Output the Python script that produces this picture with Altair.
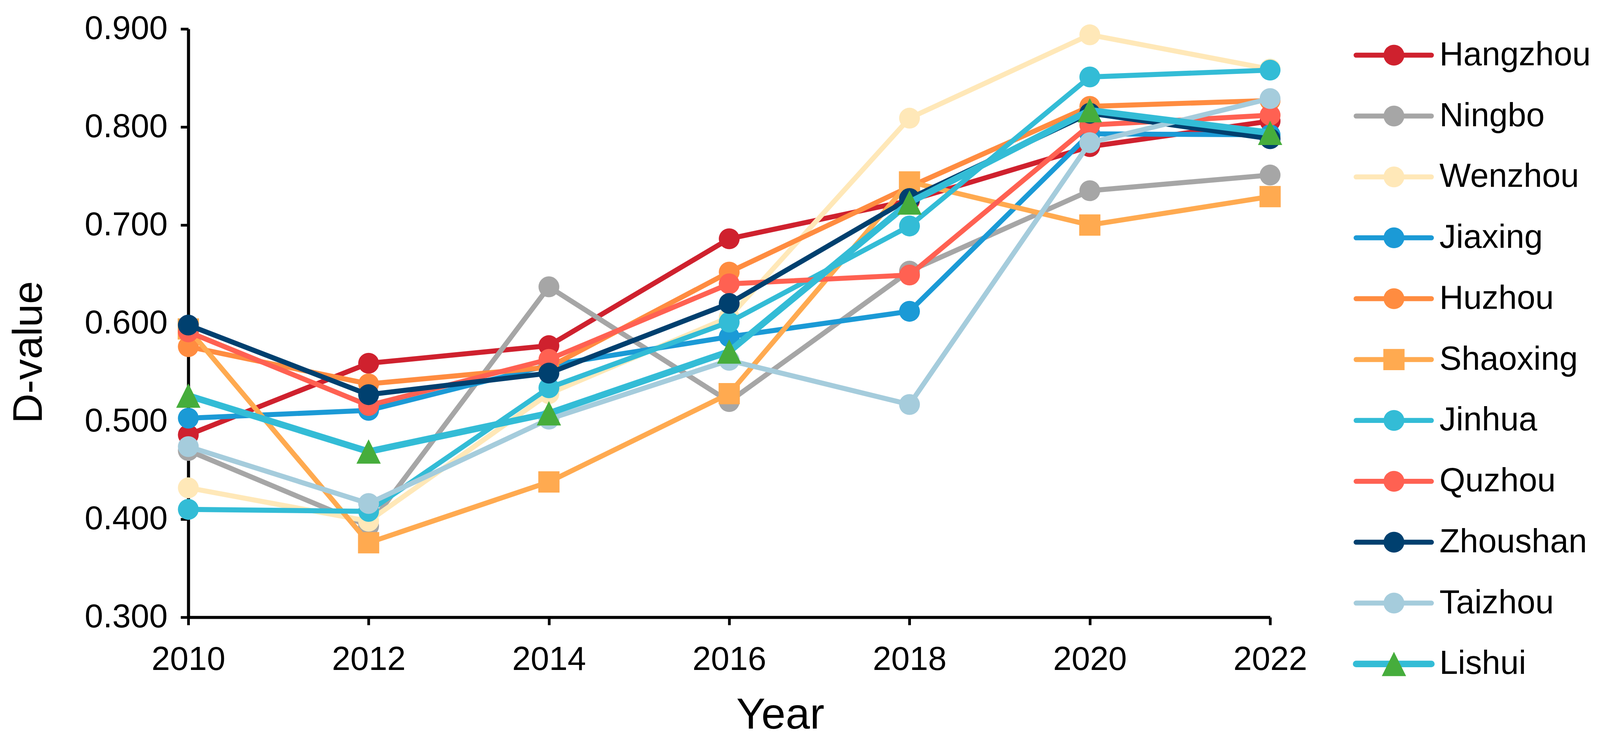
import altair as alt
import pandas as pd

# ---------------- data ----------------
years = [2010, 2012, 2014, 2016, 2018, 2020, 2022]
cities = ["Hangzhou", "Ningbo", "Wenzhou", "Jiaxing", "Huzhou", "Shaoxing",
          "Jinhua", "Quzhou", "Zhoushan", "Taizhou", "Lishui"]

hangzhou = [0.486, 0.559, 0.577, 0.686, 0.725, 0.780, 0.806]
ningbo   = [0.470, 0.393, 0.637, 0.520, 0.653, 0.735, 0.751]
wenzhou  = [0.432, 0.398, 0.528, 0.606, 0.809, 0.894, 0.859]
jiaxing  = [0.503, 0.511, 0.557, 0.586, 0.612, 0.793, 0.792]
huzhou   = [0.576, 0.538, 0.555, 0.652, 0.739, 0.821, 0.827]
shaoxing = [0.594, 0.376, 0.438, 0.528, 0.744, 0.700, 0.729]
jinhua   = [0.410, 0.408, 0.534, 0.601, 0.699, 0.851, 0.858]
quzhou   = [0.591, 0.516, 0.563, 0.640, 0.649, 0.802, 0.812]
zhoushan = [0.598, 0.527, 0.549, 0.620, 0.727, 0.814, 0.788]
taizhou  = [0.474, 0.416, 0.502, 0.562, 0.517, 0.784, 0.829]
lishui   = [0.526, 0.469, 0.508, 0.571, 0.723, 0.817, 0.794]

y_ticks = [0.3, 0.4, 0.5, 0.6, 0.7, 0.8, 0.9]

series = [hangzhou, ningbo, wenzhou, jiaxing, huzhou, shaoxing,
          jinhua, quzhou, zhoushan, taizhou, lishui]

rows = []
for c, vals in zip(cities, series):
    for yr, v in zip(years, vals):
        rows.append({"city": c, "year": yr, "value": v})
df = pd.DataFrame(rows)
legend_df = pd.DataFrame({"city": cities})

# ---------------- styles ----------------
line_colors = ["#CF212E", "#A6A6A6", "#FFE8B8", "#1B9AD6", "#FF8C40", "#FFAA50",
               "#33BCD6", "#FF6152", "#00406F", "#A5CCDC", "#33BCD6"]
marker_colors = ["#CF212E", "#A6A6A6", "#FFE8B8", "#1B9AD6", "#FF8C40", "#FFAA50",
                 "#33BCD6", "#FF6152", "#00406F", "#A5CCDC", "#46AD3C"]
TRI = "M0,-1L-1,1L1,1Z"
shapes = ["circle"] * 5 + ["square"] + ["circle"] * 4 + [TRI]
sizes = [2916] * 5 + [3025] + [2916] * 4 + [3969]
widths = [13] * 10 + [17]

FONT = "Liberation Sans"

color_enc = alt.Color("city:N", scale=alt.Scale(domain=cities, range=line_colors), legend=None)
fill_enc = alt.Fill("city:N", scale=alt.Scale(domain=cities, range=marker_colors), legend=None)
shape_enc = alt.Shape("city:N", scale=alt.Scale(domain=cities, range=shapes), legend=None)

x_enc = alt.X(
    "year:Q",
    scale=alt.Scale(domain=[2010, 2022], nice=False, zero=False),
    axis=alt.Axis(
        values=years, format="d", title="Year", grid=False,
        labelFont=FONT, labelFontSize=86, labelColor="black", labelPadding=48,
        labelFlush=False, labelOverlap=False, labelLimit=0,
        tickSize=20, tickWidth=7, tickColor="black",
        domainColor="black", domainWidth=8,
        titleFont=FONT, titleFontSize=113, titleFontWeight="normal", titleColor="black",
        titleX=1534, titleY=288, titleBaseline="alphabetic", titleAlign="center",
        titleLimit=0,
    ),
)
y_enc = alt.Y(
    "value:Q",
    scale=alt.Scale(domain=[0.3, 0.9], nice=False, zero=False),
    axis=alt.Axis(
        values=y_ticks, format=".3f", title="D-value", grid=False,
        labelFont=FONT, labelFontSize=86, labelColor="black", labelPadding=34,
        labelFlush=False, labelOverlap=False, labelLimit=0,
        tickSize=20, tickWidth=7, tickColor="black",
        domainColor="black", domainWidth=8,
        titleFont=FONT, titleFontSize=107, titleFontWeight="normal", titleColor="black",
        titleAngle=270, titleX=-380, titleY=837, titleBaseline="alphabetic", titleAlign="center",
        titleLimit=0,
    ),
)

base = alt.Chart(df)
main_layers = []
for i, c in enumerate(cities):
    sub = base.transform_filter(alt.datum.city == c)
    main_layers.append(
        sub.mark_line(strokeJoin="round").encode(
            x=x_enc, y=y_enc, color=color_enc, strokeWidth=alt.value(widths[i])
        )
    )
    main_layers.append(
        sub.mark_point(filled=True, opacity=1, strokeWidth=0).encode(
            x=x_enc, y=y_enc, fill=fill_enc, shape=shape_enc, size=alt.value(sizes[i])
        )
    )
main = alt.layer(*main_layers)

# ---------------- legend (data-driven rows) ----------------
leg_y = alt.Y("city:N", scale=alt.Scale(type="point", domain=cities, range=[68, 1645], padding=0),
              axis=None)
lbase = alt.Chart(legend_df)
leg_rules = []
for i, c in enumerate(cities):
    leg_rules.append(
        lbase.transform_filter(alt.datum.city == c).mark_rule(strokeCap="round").encode(
            x=alt.value(3027), x2=alt.value(3222), y=leg_y, color=color_enc,
            strokeWidth=alt.value(widths[i])
        )
    )
leg_points = []
for i, c in enumerate(cities):
    leg_points.append(
        lbase.transform_filter(alt.datum.city == c).mark_point(filled=True, opacity=1, strokeWidth=0).encode(
            x=alt.value(3125), y=leg_y, fill=fill_enc, shape=shape_enc, size=alt.value(sizes[i])
        )
    )
leg_text = lbase.mark_text(align="left", baseline="middle", font=FONT, fontSize=86, color="black").encode(
    x=alt.value(3243), y=leg_y, text="city:N"
)
legend = alt.layer(*leg_rules, *leg_points, leg_text)

chart = alt.layer(main, legend).resolve_scale(y="independent").properties(
    width=2804, height=1524,
    padding={"left": 480, "top": 55, "right": 847, "bottom": 311},
    autosize=alt.AutoSizeParams(type="none"),
    background="white",
).configure_view(strokeWidth=0)

chart.save("out.html", embed_options={"renderer": "svg", "actions": False})
